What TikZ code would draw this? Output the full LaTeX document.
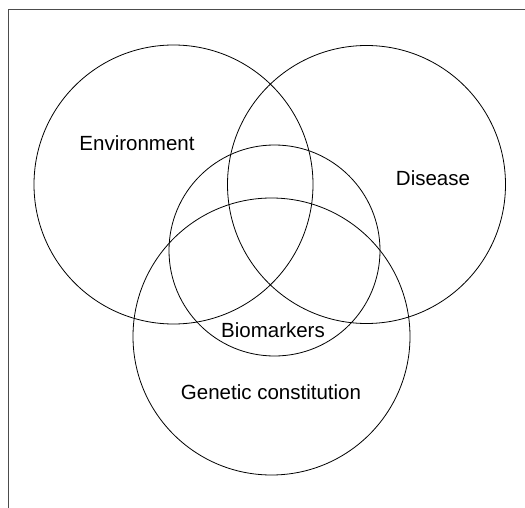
\documentclass[tikz,border=0pt]{standalone}
\usepackage{fontspec}
\setmainfont{Liberation Sans}

\tikzset{
  venn/.style={
    draw=black, circle, line width=0.8pt,
    inner sep=0pt, outer sep=0pt
  },
  venntext/.style={
    font=\fontsize{20.5}{24}\selectfont,
    inner sep=0pt, anchor=center
  },
  framebar/.style={
    draw=black!70, line width=0.6pt
  },
}

\begin{document}
\begin{tikzpicture}[x=1pt, y=-1pt, every node/.style={outer sep=0pt}]

\useasboundingbox (0,0) rectangle (525,508);

%% Frame (top and left edges only)
\coordinate (fl) at (8.5,508);
\coordinate (fc) at (8.5,9);
\coordinate (fr) at (525,9);
\draw[framebar] (fl) -- (fc) -- (fr);

%% Circles
\node[venn, minimum size=279pt] (env) at (173.5,184.5) {};
\node[venn, minimum size=278pt] (dis) at (366.5,184.5) {};
\node[venn, minimum size=211pt] (bio) at (274.5,250.5) {};
\node[venn, minimum size=277pt] (gen) at (271.5,336.5) {};

%% Labels
\node[venntext] (envlabel) at (137,143) {Environment};
\node[venntext] (dislabel) at (433,178) {Disease};
\node[venntext] (biolabel) at (273,330) {Biomarkers};
\node[venntext] (genlabel) at (271,392) {Genetic constitution};

\end{tikzpicture}
\end{document}
